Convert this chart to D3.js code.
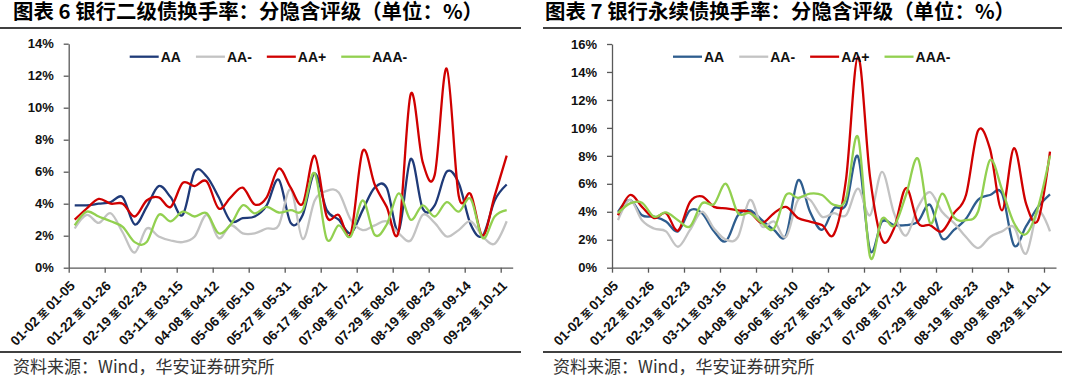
<!DOCTYPE html>
<html>
<head>
<meta charset="utf-8">
<script src="https://cdn.jsdelivr.net/npm/d3@7"></script>
<style>
body { margin: 0; background: #fff; }
svg { display: block; font-family: "Liberation Sans", Arial, "Noto Sans CJK SC", sans-serif; }
.title { font-family: "Noto Sans CJK SC", sans-serif; font-weight: 700; font-size: 20.5px; fill: #000; }
.source { font-family: "Noto Sans CJK SC", sans-serif; font-size: 17px; fill: #333; }
.axis path, .axis line { stroke: #595959; stroke-width: 1.3px; }
.axis text { font-weight: bold; font-size: 13px; fill: #111; }
.xlab { font-weight: bold; font-size: 13.5px; fill: #111; }
.xlab .zhi { font-family: "Noto Sans CJK SC", sans-serif; font-size: 10.5px; }
.legend text { font-weight: bold; font-size: 14px; fill: #111; }
</style>
</head>
<body>
<svg id="chart" width="1080" height="378"></svg>
<script>

// weekly windows (only every third one is labelled on the axis)
var weeks = [
    "01-02至01-05", "01-08至01-12", "01-15至01-19", "01-22至01-26", "01-29至02-02",
    "02-04至02-08", "02-19至02-23", "02-26至03-01", "03-04至03-08", "03-11至03-15",
    "03-18至03-22", "03-25至04-03", "04-08至04-12", "04-15至04-19", "04-22至04-30",
    "05-06至05-10", "05-13至05-17", "05-20至05-24", "05-27至05-31", "06-03至06-07",
    "06-11至06-14", "06-17至06-21", "06-24至06-28", "07-01至07-05", "07-08至07-12",
    "07-15至07-19", "07-22至07-26", "07-29至08-02", "08-05至08-09", "08-12至08-16",
    "08-19至08-23", "08-26至08-30", "09-02至09-06", "09-09至09-14", "09-18至09-20",
    "09-23至09-27", "09-29至10-11"
];

var ratings = ["AA", "AA-", "AA+", "AAA-"];

// 图表6 银行二级债换手率 (%)
var tier2AA   = [3.9,3.9,4.0,4.1,4.4,2.7,3.8,5.1,4.4,3.3,6.0,5.7,4.4,2.9,3.1,3.2,3.9,5.5,2.8,3.3,5.9,3.6,3.0,2.15,3.6,5.0,5.0,2.3,6.8,3.7,3.9,6.0,5.3,2.7,2.0,4.2,5.2];
var tier2AAm  = [2.45,3.3,2.8,3.4,2.2,0.95,2.45,1.95,1.7,1.6,1.95,3.3,1.85,2.65,2.15,2.15,2.45,2.65,4.9,1.8,4.2,4.8,4.7,3.0,2.35,2.65,2.9,2.15,1.7,3.3,2.8,1.95,2.35,2.9,1.95,1.5,2.9];
var tier2AAp  = [3.0,3.7,4.3,4.0,4.0,3.2,4.2,4.4,3.8,5.3,5.1,5.4,3.7,4.4,5.0,3.95,4.4,6.2,5.0,4.0,7.0,3.2,3.3,2.1,7.3,5.2,3.8,2.3,10.85,6.6,5.8,12.45,4.5,4.6,2.0,4.5,7.0];
var tier2AAAm = [2.65,3.5,3.2,2.9,2.55,1.6,1.6,3.3,2.9,3.5,3.2,3.4,2.15,2.7,3.9,3.4,3.8,3.45,3.6,3.6,5.9,1.8,2.65,1.95,4.2,2.05,2.7,4.65,3.0,3.9,3.2,4.1,3.5,4.3,1.85,3.2,3.6];
var tier2Ticks = [0, 2, 4, 6, 8, 10, 12, 14];

// 图表7 银行永续债换手率 (%)
var perpAA   = [4.0,4.85,3.75,3.65,3.3,2.6,4.1,3.9,2.6,1.9,3.75,4.1,3.4,2.7,2.3,6.25,4.0,2.7,4.25,4.5,7.95,1.25,3.3,3.05,3.05,3.3,4.5,2.1,2.7,3.5,4.85,5.2,5.3,1.6,2.95,4.35,5.25];
var perpAAm  = [3.4,4.85,3.4,2.8,2.6,1.5,2.7,4.0,2.8,2.0,2.2,4.85,2.95,3.3,2.2,4.85,4.85,3.65,3.9,3.75,5.65,3.75,6.85,3.9,2.3,4.35,5.4,4.0,3.2,2.2,1.4,2.2,2.6,2.9,1.0,4.0,2.6];
var perpAAp  = [3.75,5.2,4.35,3.55,3.9,2.65,4.7,5.1,4.35,4.25,4.1,3.95,3.2,3.9,4.35,3.55,3.3,3.05,2.4,6.3,15.1,6.5,2.0,2.8,5.7,3.2,3.05,2.6,3.9,5.2,9.8,8.5,4.1,8.55,4.6,3.4,8.3];
var perpAAAm = [3.9,4.6,4.65,3.65,3.95,3.4,2.95,4.6,4.55,6.0,3.9,3.9,3.2,2.8,5.2,5.0,5.3,5.2,4.5,4.95,9.35,0.8,3.5,3.0,5.2,7.8,3.2,5.3,3.6,3.4,4.0,7.7,5.6,3.2,2.4,4.3,8.0];
var perpTicks = [0, 2, 4, 6, 8, 10, 12, 14, 16];

/**
 * One panel: title, plot, legend and source line
 */
function TurnoverChart(svg, opts){
    var self = this;
    self.svg = svg;
    self.opts = opts;
    self.init();
};

TurnoverChart.prototype.init = function(){
    var self = this;
    var o = self.opts;

    self.g = self.svg.append("g")
        .attr("transform", "translate(" + o.left + ",0)");

    self.g.append("text")
        .attr("class", "title")
        .attr("x", o.titleX)
        .attr("y", 18.5)
        .attr("textLength", 470)
        .attr("lengthAdjust", "spacingAndGlyphs")
        .text(o.title);

    //rules above the plot and above the source line
    [28, 352].forEach(function(yy){
        self.g.append("line")
            .attr("x1", o.ruleX0).attr("x2", o.ruleX1)
            .attr("y1", yy).attr("y2", yy)
            .attr("stroke", "#404040")
            .attr("stroke-width", 2);
    });

    self.g.append("text")
        .attr("class", "source")
        .attr("x", 13)
        .attr("y", 373)
        .text("资料来源：Wind，华安证券研究所");
};

TurnoverChart.prototype.update = function(series, ticks){
    var self = this;
    var o = self.opts;
    var bottom = 267.7;

    var x = d3.scaleBand()
        .domain(weeks)
        .range([o.axisX, o.axisX + 444]);

    //index scale, used only for the tick marks between categories
    var idx = d3.scaleLinear()
        .domain([0, weeks.length])
        .range([o.axisX, o.axisX + 444]);

    var y = d3.scaleLinear()
        .domain([0, d3.max(ticks)])
        .range([bottom, o.top]);

    self.g.append("g")
        .attr("class", "axis")
        .attr("transform", "translate(" + o.axisX + ",0)")
        .call(d3.axisLeft(y)
            .tickValues(ticks)
            .tickSize(5)
            .tickSizeOuter(0)
            .tickPadding(10)
            .tickFormat(function(d){ return d + "%"; }));

    self.g.append("g")
        .attr("class", "axis")
        .attr("transform", "translate(0," + bottom + ")")
        .call(d3.axisBottom(idx)
            .tickValues(d3.range(0, weeks.length, 3))
            .tickSize(5)
            .tickSizeOuter(0)
            .tickFormat(""));

    var labels = self.g.append("g")
        .selectAll("text")
        .data(weeks.filter(function(d, i){ return i % 3 == 0; }))
        .enter()
        .append("text")
        .attr("class", "xlab")
        .attr("text-anchor", "end")
        .attr("transform", function(d){
            return "translate(" + (x(d) + x.bandwidth() / 2 + 1) + "," + (bottom + 19) + ") rotate(-45)";
        });
    labels.append("tspan").text(function(d){ return d.split("至")[0]; });
    labels.append("tspan").attr("class", "zhi").attr("dx", 2.5).text("至");
    labels.append("tspan").attr("dx", 2.5).text(function(d){ return d.split("至")[1]; });

    var line = d3.line()
        .x(function(d, i){ return x(weeks[i]) + x.bandwidth() / 2; })
        .y(function(d){ return y(d); })
        .curve(d3.curveCatmullRom.alpha(0));

    self.g.append("g")
        .selectAll("path")
        .data(series)
        .enter()
        .append("path")
        .attr("d", function(s){ return line(s.values); })
        .attr("fill", "none")
        .attr("stroke", function(s){ return s.color; })
        .attr("stroke-width", 2.3)
        .attr("stroke-linejoin", "round");

    //legend: short line + label, laid out left to right
    var legend = self.g.append("g").attr("class", "legend");
    var lx = o.axisX + 61;
    series.forEach(function(s){
        legend.append("line")
            .attr("x1", lx).attr("x2", lx + 29)
            .attr("y1", 56.7).attr("y2", 56.7)
            .attr("stroke", s.color)
            .attr("stroke-width", 2.3);
        var t = legend.append("text")
            .attr("x", lx + 31)
            .attr("y", 56.7)
            .attr("dy", "0.36em")
            .text(s.name);
        lx += 31 + t.node().getComputedTextLength() + 15;
    });
};

var svg = d3.select("#chart");

var tier2Chart = new TurnoverChart(svg, {
    left: 0, titleX: 13, ruleX0: 0, ruleX1: 521,
    axisX: 68.7, top: 43.7,
    title: "图表 6 银行二级债换手率：分隐含评级（单位：%）"
});
tier2Chart.update([
    {name: ratings[0], color: "#1F3A78", values: tier2AA},
    {name: ratings[1], color: "#C3C3C3", values: tier2AAm},
    {name: ratings[2], color: "#D00000", values: tier2AAp},
    {name: ratings[3], color: "#92D050", values: tier2AAAm}
], tier2Ticks);

var perpChart = new TurnoverChart(svg, {
    left: 540, titleX: 5, ruleX0: 3, ruleX1: 522,
    axisX: 72, top: 44,
    title: "图表 7 银行永续债换手率：分隐含评级（单位：%）"
});
perpChart.update([
    {name: ratings[0], color: "#2E5D8E", values: perpAA},
    {name: ratings[1], color: "#C3C3C3", values: perpAAm},
    {name: ratings[2], color: "#D00000", values: perpAAp},
    {name: ratings[3], color: "#92D050", values: perpAAAm}
], perpTicks);

</script>
</body>
</html>
